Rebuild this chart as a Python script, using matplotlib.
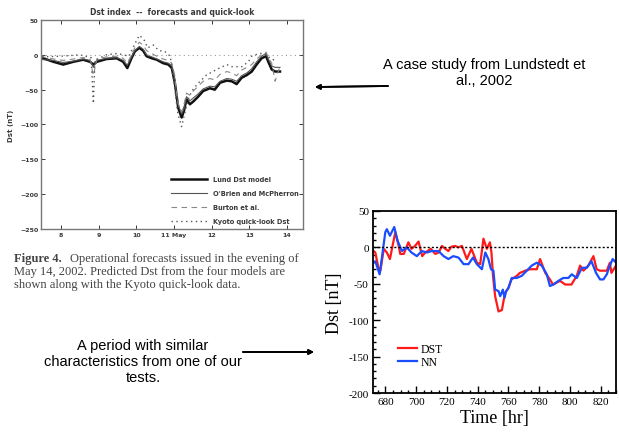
import matplotlib.pyplot as plt
from matplotlib.ticker import MultipleLocator

# --- left panel: scanned paper figure (Lundstedt et al., 2002) ---
lund_day = [7.45, 7.53, 7.80, 8.06, 8.33, 8.59, 8.77, 8.86, 8.95, 9.21, 9.48, 9.65, 9.76,
            9.87, 9.96, 10.08, 10.18, 10.27, 10.41, 10.54, 10.71, 10.85, 10.94, 11.02,
            11.05, 11.11, 11.20, 11.26, 11.33, 11.42, 11.51, 11.64, 11.77, 11.95, 12.08,
            12.22, 12.40, 12.53, 12.66, 12.79, 12.93, 13.06, 13.19, 13.32, 13.44, 13.50,
            13.59, 13.68, 13.81]
lund_dst = [-3, -5, -10, -14, -10, -7, -10, -14, -10, -6, -5, -10, -19,
            -5, 5, 10, 6, -2, -5, -7, -12, -14, -19, -40,
            -52, -76, -90, -81, -64, -71, -67, -60, -52, -48, -50,
            -40, -37, -38, -42, -33, -29, -24, -14, -5, -2, -10,
            -21, -24, -24]
obrien_dst = [-6, -7, -8, -11, -9, -6, -8, -18, -8, -5, -4, -8, -15,
              -3, 6, 12, 8, 0, -3, -6, -10, -12, -16, -35,
              -50, -72, -85, -78, -60, -66, -62, -56, -49, -45, -46,
              -38, -34, -35, -38, -30, -26, -20, -10, -2, 2, -6,
              -16, -18, -18]
burton_dst = [-4, -3, -6, -8, -6, -4, -6, -30, -6, -3, -2, -5, -12,
              0, 10, 18, 14, 6, 2, -2, -6, -8, -12, -30,
              -48, -70, -82, -72, -55, -58, -52, -45, -38, -34, -36,
              -28, -24, -26, -30, -22, -18, -14, -6, 0, 4, -4,
              -12, -38, -16]
kyoto_day = [7.5, 8.0, 8.5, 8.8, 8.86, 8.9, 9.2, 9.5, 9.8, 10.0, 10.08, 10.2, 10.3, 10.45,
             10.6, 10.75, 10.9, 11.0, 11.1, 11.2, 11.3, 11.4, 11.5, 11.6, 11.86, 12.13,
             12.4, 12.53, 12.8, 12.97, 13.06, 13.26, 13.4, 13.55, 13.72]
kyoto_dst = [-3, -2, 0, -4, -70, -8, 0, 2, -2, 20, 28, 22, 10, 14,
             6, 5, -2, -40, -85, -103, -80, -60, -50, -43, -29, -21,
             -14, -17, -17, -10, -2, 2, 2, -5, -9]
day_ticks = [8, 9, 10, 11, 12, 13, 14]
day_labels = ['8', '9', '10', '11 May', '12', '13', '14']
left_yticks = [50, 0, -50, -100, -150, -200, -250]
caption = ["Operational forecasts issued in the evening of",
           "May 14, 2002. Predicted Dst from the four models are",
           "shown along with the Kyoto quick-look data."]

# --- right panel: our test period ---
dst_hr = [672.4, 673.5, 675.7, 676.8, 679, 681, 683, 686.5, 688.7, 689.7, 692, 695, 697,
          699.3, 701.6, 704, 706, 709.5, 712.5, 714.7, 716.8, 719, 721, 723, 725.5, 727.5,
          729.8, 733, 736, 739.5, 741.7, 743.8, 746, 748, 749, 750, 751.4, 753.6, 755.8,
          757, 758, 760, 762, 765.5, 767.5, 771, 774, 778.5, 780.6, 784, 787, 789, 793.6,
          797, 801, 804.5, 806.6, 808.8, 812, 815.3, 817.4, 819.6, 824, 826, 827, 830]
dst_val = [-5, -7, -30, -32, -2, -7, -16, 21, 2, -9, -9, 7, -2,
           2, 8, -12, -7, -2, -9, -7, 2, -2, -5, 1, 2, 0,
           2, -16, -2, -21, -23, 12, -2, 7, -7, -39, -67, -88, -86,
           -72, -62, -56, -44, -39, -35, -32, -30, -30, -16, -35, -44, -51, -46,
           -51, -51, -39, -25, -32, -25, -12, -30, -32, -32, -21, -35, -25]
nn_hr = [672.4, 673.5, 676.3, 677.8, 680, 681, 683, 685.8, 688, 690.8, 694, 697, 700.5,
         703.7, 707, 710.3, 714.6, 717.9, 721, 724.2, 727.6, 730.9, 734.1, 737, 739.5,
         742.8, 745, 747, 748.7, 750.3, 751.4, 753.6, 754.7, 756.4, 757.5, 758.6, 760,
         762.2, 765.5, 768.7, 772, 775.2, 778.5, 781.7, 785, 787, 789.3, 792.5, 795.7,
         799, 801.2, 804.5, 807.8, 811, 814, 817, 819.6, 821.8, 824, 826, 827.8, 830]
nn_val = [-21, -19, -37, -14, 21, 25, 16, 28, 9, -5, 0, -7, -12,
          -5, -7, -5, -5, -12, -16, -12, -14, -23, -23, -14, -23,
          -30, -7, -16, -30, -32, -58, -60, -67, -58, -69, -60, -56,
          -42, -42, -39, -32, -25, -21, -25, -37, -53, -51, -46, -42,
          -42, -37, -42, -28, -28, -19, -35, -44, -44, -37, -25, -16, -21]

SCAN = '#3a3a3a'

fig = plt.figure(figsize=(6.19, 4.39), dpi=100)

ax1 = fig.add_axes([0.0662, 0.4761, 0.4233, 0.4761])
ax1.plot(lund_day, lund_dst, color='#111111', lw=1.8)
ax1.plot(lund_day, obrien_dst, color='#555555', lw=0.8)
ax1.plot(lund_day, burton_dst, color='#888888', lw=0.8, ls=(0, (5, 4)))
ax1.plot(kyoto_day, kyoto_dst, color='#555555', lw=1.0, ls=(0, (1, 2.5)))
ax1.axhline(0, color='#999999', lw=0.8, ls=(0, (1, 3)))
ax1.set_xlim(7.47, 14.42)
ax1.set_ylim(-250, 50)
ax1.set_xticks(day_ticks)
ax1.set_xticklabels(day_labels)
ax1.set_yticks(left_yticks)
ax1.tick_params(direction='in', top=True, right=True, length=3, width=0.7,
                colors=SCAN, labelsize=4.5, pad=2)
for lab in ax1.get_xticklabels() + ax1.get_yticklabels():
    lab.set_fontweight('bold')
for sp in ax1.spines.values():
    sp.set_color('#777777')
    sp.set_linewidth(1.0)
ax1.set_title('Dst index  --  forecasts and quick-look', fontsize=5.5,
              fontweight='bold', color=SCAN, pad=4)
ax1.set_ylabel('Dst (nT)', fontsize=5, fontweight='bold', color=SCAN, labelpad=4)
leg1 = ax1.legend(['Lund Dst model', "O'Brien and McPherron", 'Burton et al.',
                   'Kyoto quick-look Dst'], loc='lower right', frameon=False,
                  handlelength=5.5, labelspacing=1.2, borderaxespad=0.3,
                  prop={'weight': 'bold', 'size': 4.8})
for t in leg1.get_texts():
    t.set_color(SCAN)

cap_kw = dict(fontsize=9, family='Liberation Serif', color='#444444', va='baseline')
fig.text(14 / 619, 1 - 262 / 439, 'Figure 4.', fontweight='bold', **cap_kw)
fig.text(70 / 619, 1 - 262 / 439, caption[0], **cap_kw)
fig.text(14 / 619, 1 - 275 / 439, caption[1], **cap_kw)
fig.text(14 / 619, 1 - 288 / 439, caption[2], **cap_kw)

# --- right panel ---
ax2 = fig.add_axes([0.6026, 0.1025, 0.3926, 0.4146])
ax2.plot(dst_hr, dst_val, color='#ff1a1a', lw=1.6, label='DST')
ax2.plot(nn_hr, nn_val, color='#1a4dff', lw=1.6, label='NN')
ax2.axhline(0, color='black', lw=1.0, ls=(0, (1.5, 1.5)))
ax2.set_xlim(672, 830)
ax2.set_ylim(-200, 50)
ax2.xaxis.set_major_locator(MultipleLocator(20))
ax2.xaxis.set_minor_locator(MultipleLocator(5))
ax2.yaxis.set_major_locator(MultipleLocator(50))
ax2.yaxis.set_minor_locator(MultipleLocator(10))
ax2.tick_params(which='both', direction='in', width=1.0)
ax2.tick_params(which='major', length=5, labelsize=8, pad=3)
ax2.tick_params(which='minor', length=2.5)
for sp in ax2.spines.values():
    sp.set_linewidth(1.3)
ax2.set_yticks([50, 0, -50, -100, -150, -200])
ax2.set_yticklabels(['50', '0', '-50', '-100', '-150', '-200'])
for lab in ax2.get_xticklabels() + ax2.get_yticklabels():
    lab.set_family('Liberation Serif')
ax2.set_xlabel('Time [hr]', fontsize=13, family='Liberation Serif', labelpad=2)
ax2.set_ylabel('Dst [nT]', fontsize=13, family='Liberation Serif', labelpad=4)
ax2.legend(loc='lower left', bbox_to_anchor=(0.08, 0.105), frameon=False,
           prop={'family': 'Liberation Serif', 'size': 8.5}, handlelength=1.6,
           handletextpad=0.3, labelspacing=0.1, borderpad=0)

# --- annotations ---
fig.text(484 / 619, 1 - 85 / 439, 'A case study from Lundstedt et\nal., 2002',
         ha='center', va='baseline', fontsize=10.5, family='Liberation Sans',
         linespacing=1.15)
fig.add_artist(plt.annotate('', xy=(315 / 619, 1 - 88 / 439), xytext=(388 / 619, 1 - 87 / 439),
                            xycoords='figure fraction', textcoords='figure fraction',
                            arrowprops=dict(arrowstyle='-|>', color='black', lw=1.3,
                                            mutation_scale=7, shrinkA=0, shrinkB=0)))
fig.text(143 / 619, 1 - 382 / 439,
         'A period with similar\ncharacteristics from one of our\ntests.',
         ha='center', va='baseline', fontsize=10.5, family='Liberation Sans',
         linespacing=1.2, multialignment='center')
fig.add_artist(plt.annotate('', xy=(314 / 619, 1 - 353 / 439), xytext=(243 / 619, 1 - 353 / 439),
                            xycoords='figure fraction', textcoords='figure fraction',
                            arrowprops=dict(arrowstyle='-|>', color='black', lw=1.3,
                                            mutation_scale=7, shrinkA=0, shrinkB=0)))

fig.savefig('out.png', dpi=100)
